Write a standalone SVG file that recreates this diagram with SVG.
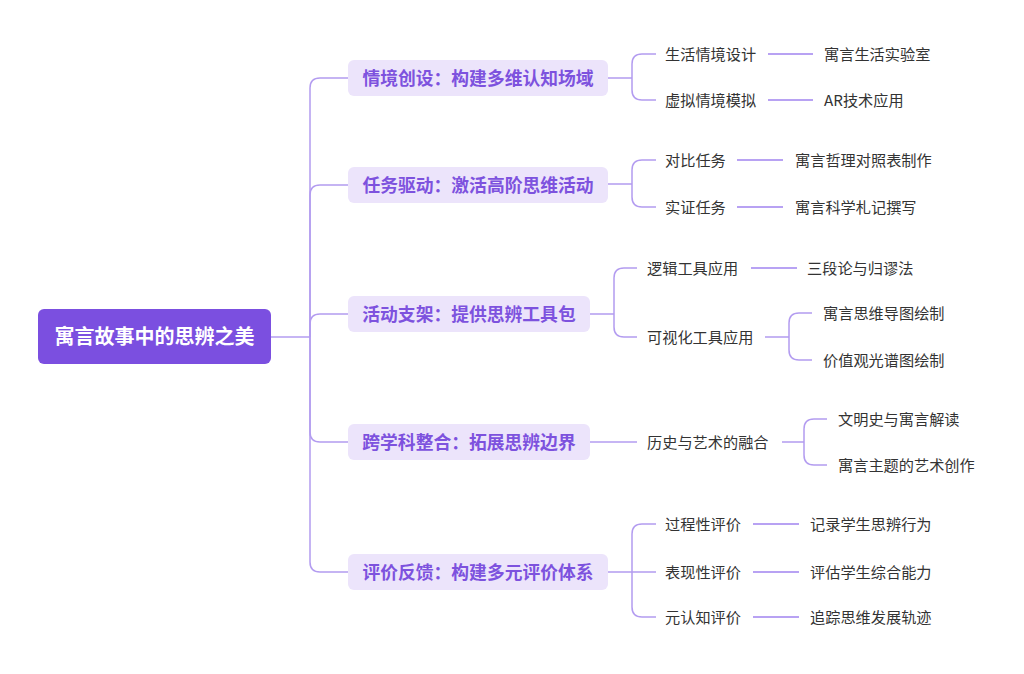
<svg xmlns="http://www.w3.org/2000/svg" width="1024" height="674" viewBox="0 0 1024 674">
<style>
.ln{fill:none;stroke:#b39cf0;stroke-width:1.5}
.ln3{fill:none;stroke:#a184f0;stroke-width:1.5}
.root{fill:#7b4fe0}
.rt{font-family:"Noto Sans CJK SC","Noto Sans",sans-serif;font-size:20px;font-weight:bold;fill:#ffffff;text-anchor:middle;dominant-baseline:central}
.b1{fill:#ece4fb}
.t1{font-family:"Noto Sans CJK SC","Noto Sans",sans-serif;font-size:17.8px;font-weight:bold;fill:#7d52de;text-anchor:middle;dominant-baseline:central}
.t2{font-family:"Noto Sans CJK SC","Noto Sans",sans-serif;font-size:15.2px;fill:#333333;dominant-baseline:central}
</style>
<rect width="1024" height="674" fill="#ffffff"/>
<g id="connectors">
<path class="ln" d="M271,337 H310"/>
<path class="ln" d="M310,337 V88 Q310,78 320,78 H348"/>
<path class="ln" d="M310,337 V195 Q310,185 320,185 H348"/>
<path class="ln" d="M310,337 V324 Q310,314 320,314 H348"/>
<path class="ln" d="M310,337 V432 Q310,442 320,442 H348"/>
<path class="ln" d="M310,337 V562 Q310,572 320,572 H348"/>
<path class="ln" d="M608,78 H632 M632,78 V64 Q632,54 642,54 H656 M632,78 V90 Q632,100 642,100 H656"/>
<path class="ln3" d="M768,54 H813 M768,100 H813"/>
<path class="ln" d="M608,184 H632 M632,184 V170 Q632,160 642,160 H656 M632,184 V197 Q632,207 642,207 H656"/>
<path class="ln3" d="M737,160 H783 M737,207 H783"/>
<path class="ln" d="M590,314 H614 M614,314 V278 Q614,268 624,268 H637 M614,314 V327 Q614,337 624,337 H637"/>
<path class="ln3" d="M751,268 H797"/>
<path class="ln" d="M765,337 H789 M789,337 V323 Q789,313 799,313 H812 M789,337 V350 Q789,360 799,360 H812"/>
<path class="ln" d="M590,442 H637"/>
<path class="ln" d="M782,442 H804 M804,442 V429 Q804,419 814,419 H827 M804,442 V455 Q804,465 814,465 H827"/>
<path class="ln" d="M608,572 H656 M632,572 V534 Q632,524 642,524 H656 M632,572 V607 Q632,617 642,617 H656"/>
<path class="ln3" d="M753,524 H799 M753,572 H799 M753,617 H799"/>
</g>
<g id="root">
<rect class="root" x="38" y="309" width="233" height="55" rx="6"/>
<text class="rt" x="154.5" y="335">寓言故事中的思辨之美</text>
</g>
<g id="n1">
<rect class="b1" x="348" y="60" width="260" height="36" rx="6"/>
<text class="t1" x="478" y="76.5">情境创设：构建多维认知场域</text>
</g>
<g id="n1a"><text class="t2" x="665" y="52.5">生活情境设计</text></g>
<g id="n1a1"><text class="t2" x="824" y="52.5">寓言生活实验室</text></g>
<g id="n1b"><text class="t2" x="665" y="98.5">虚拟情境模拟</text></g>
<g id="n1b1"><text class="t2" x="824" y="98.5">AR技术应用</text></g>
<g id="n2">
<rect class="b1" x="348" y="167" width="260" height="36" rx="6"/>
<text class="t1" x="478" y="183.5">任务驱动：激活高阶思维活动</text>
</g>
<g id="n2a"><text class="t2" x="665" y="158.5">对比任务</text></g>
<g id="n2a1"><text class="t2" x="795" y="158.5">寓言哲理对照表制作</text></g>
<g id="n2b"><text class="t2" x="665" y="205.5">实证任务</text></g>
<g id="n2b1"><text class="t2" x="795" y="205.5">寓言科学札记撰写</text></g>
<g id="n3">
<rect class="b1" x="348" y="296" width="242" height="36" rx="6"/>
<text class="t1" x="469" y="312.5">活动支架：提供思辨工具包</text>
</g>
<g id="n3a"><text class="t2" x="647" y="266.5">逻辑工具应用</text></g>
<g id="n3a1"><text class="t2" x="807" y="266.5">三段论与归谬法</text></g>
<g id="n3b"><text class="t2" x="647" y="335.5">可视化工具应用</text></g>
<g id="n3b1"><text class="t2" x="823" y="311.5">寓言思维导图绘制</text></g>
<g id="n3b2"><text class="t2" x="823" y="358.5">价值观光谱图绘制</text></g>
<g id="n4">
<rect class="b1" x="348" y="424" width="242" height="36" rx="6"/>
<text class="t1" x="469" y="440.5">跨学科整合：拓展思辨边界</text>
</g>
<g id="n4a"><text class="t2" x="647" y="440.5">历史与艺术的融合</text></g>
<g id="n4a1"><text class="t2" x="838" y="417.5">文明史与寓言解读</text></g>
<g id="n4a2"><text class="t2" x="838" y="463.5">寓言主题的艺术创作</text></g>
<g id="n5">
<rect class="b1" x="348" y="554" width="260" height="36" rx="6"/>
<text class="t1" x="478" y="570.5">评价反馈：构建多元评价体系</text>
</g>
<g id="n5a"><text class="t2" x="665" y="522.5">过程性评价</text></g>
<g id="n5a1"><text class="t2" x="810" y="522.5">记录学生思辨行为</text></g>
<g id="n5b"><text class="t2" x="665" y="570.5">表现性评价</text></g>
<g id="n5b1"><text class="t2" x="810" y="570.5">评估学生综合能力</text></g>
<g id="n5c"><text class="t2" x="665" y="615.5">元认知评价</text></g>
<g id="n5c1"><text class="t2" x="810" y="615.5">追踪思维发展轨迹</text></g>
</svg>
